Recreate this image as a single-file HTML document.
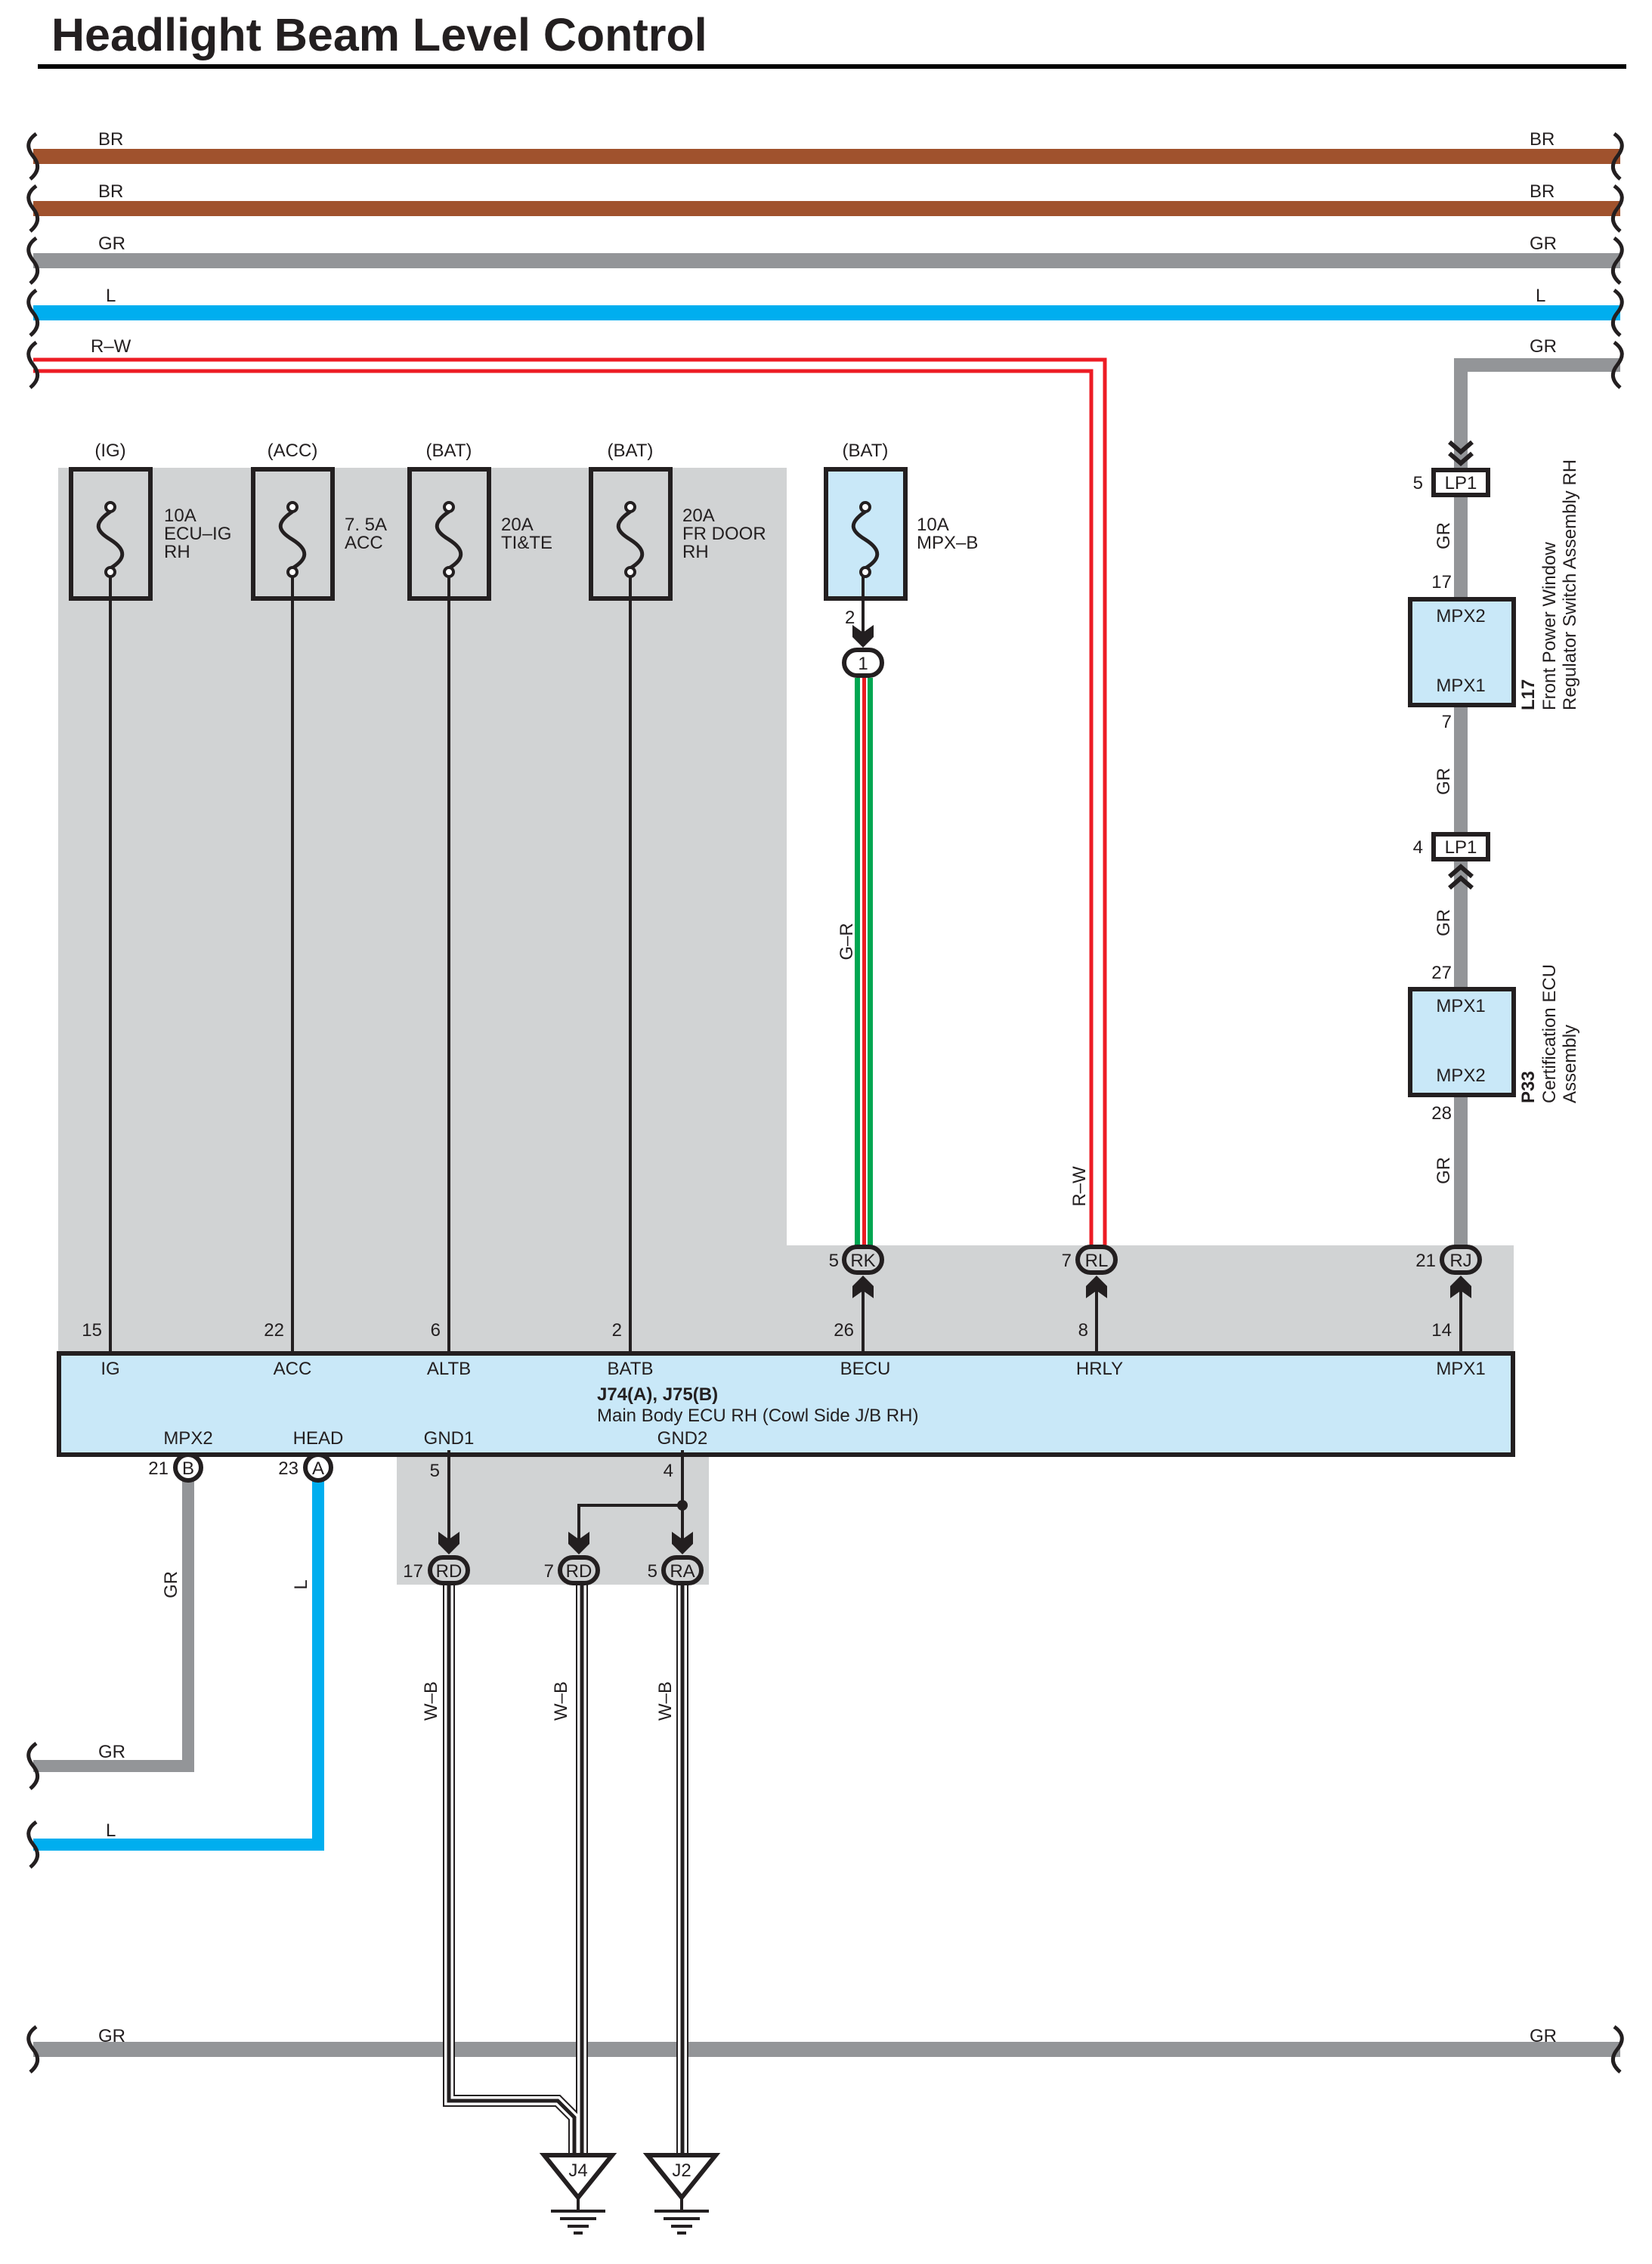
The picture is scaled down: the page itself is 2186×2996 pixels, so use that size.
<!DOCTYPE html>
<html><head><meta charset="utf-8"><style>
html,body{margin:0;padding:0;background:#fff}
svg{display:block}
text{font-family:"Liberation Sans",sans-serif;fill:#231f20}
</style></head><body>
<svg width="2186" height="2996" viewBox="0 0 2186 2996" xmlns="http://www.w3.org/2000/svg">
<defs>
<path id="sq" d="M48 -30 c-14 10 -12 20 -4 30 c8 10 8 20 -4 30" fill="none" stroke="#231f20" stroke-width="5"/>
<path id="sqr" d="M-4 -30 c14 10 12 20 4 30 c-8 10 -8 20 4 30" fill="none" stroke="#231f20" stroke-width="5"/>
<polygon id="adn" points="-14,0 0,10 14,0 14,16 0,30 -14,16" fill="#231f20"/>
<polygon id="aup" points="-14,0 0,-10 14,0 14,-16 0,-30 -14,-16" fill="#231f20"/>
</defs>

<text x="68" y="67" font-size="61" font-weight="bold" fill="#000">Headlight Beam Level Control</text>
<rect x="50" y="85" width="2102" height="6" fill="#000"/>

<g font-size="24">
<rect x="44" y="197" width="2100" height="20" fill="#a0522d"/>
<rect x="44" y="266" width="2100" height="20" fill="#a0522d"/>
<rect x="44" y="335" width="2100" height="20" fill="#939598"/>
<rect x="44" y="404" width="2100" height="20" fill="#00aeef"/>
<text x="130" y="192">BR</text><text x="2024" y="192">BR</text>
<text x="130" y="261">BR</text><text x="2024" y="261">BR</text>
<text x="130" y="330">GR</text><text x="2024" y="330">GR</text>
<text x="140" y="399">L</text><text x="2032" y="399">L</text>
<text x="120" y="466">R–W</text><text x="2024" y="466">GR</text>
</g>
<path d="M44 476 H1462 V1648" fill="none" stroke="#ed1c24" stroke-width="5"/>
<path d="M44 491 H1444 V1648" fill="none" stroke="#ed1c24" stroke-width="5"/>
<path d="M2144 483 H1933 V621" fill="none" stroke="#939598" stroke-width="18"/>
<g>
<use href="#sq" x="0" y="207"/><use href="#sq" x="0" y="276"/><use href="#sq" x="0" y="345"/><use href="#sq" x="0" y="414"/><use href="#sq" x="0" y="483"/>
<use href="#sqr" x="2140" y="207"/><use href="#sqr" x="2140" y="276"/><use href="#sqr" x="2140" y="345"/><use href="#sqr" x="2140" y="414"/><use href="#sqr" x="2140" y="483"/>
</g>

<polygon points="77,619 1041,619 1041,1648 2003,1648 2003,1793 77,1793" fill="#d1d3d4"/>
<rect x="525" y="1924" width="413" height="173" fill="#d1d3d4"/>

<g stroke="#231f20" stroke-width="6">
<rect x="94" y="621" width="105" height="171" fill="none"/>
<rect x="335" y="621" width="105" height="171" fill="none"/>
<rect x="542" y="621" width="105" height="171" fill="none"/>
<rect x="782" y="621" width="105" height="171" fill="none"/>
<rect x="1093" y="621" width="105" height="171" fill="#c9e8f8"/>
</g>
<g stroke="#231f20" stroke-width="5" fill="none">
<path d="M146 677 C124 692,126 702,146 714 C168 728,166 740,146 752"/>
<path d="M387 677 C365 692,367 702,387 714 C409 728,407 740,387 752"/>
<path d="M594 677 C572 692,574 702,594 714 C616 728,614 740,594 752"/>
<path d="M834 677 C812 692,814 702,834 714 C856 728,854 740,834 752"/>
<path d="M1145 677 C1123 692,1125 702,1145 714 C1167 728,1165 740,1145 752"/>
</g>
<g stroke="#231f20" stroke-width="4" fill="#fff">
<circle cx="146" cy="671" r="6"/><circle cx="146" cy="757" r="6"/>
<circle cx="387" cy="671" r="6"/><circle cx="387" cy="757" r="6"/>
<circle cx="594" cy="671" r="6"/><circle cx="594" cy="757" r="6"/>
<circle cx="834" cy="671" r="6"/><circle cx="834" cy="757" r="6"/>
<circle cx="1145" cy="671" r="6"/><circle cx="1145" cy="757" r="6"/>
</g>
<g stroke="#231f20" stroke-width="4">
<line x1="146" y1="763" x2="146" y2="1793"/>
<line x1="387" y1="763" x2="387" y2="1793"/>
<line x1="594" y1="763" x2="594" y2="1793"/>
<line x1="834" y1="763" x2="834" y2="1793"/>
<line x1="1142" y1="763" x2="1142" y2="840"/>
</g>
<g font-size="24">
<text x="146" y="604" text-anchor="middle">(IG)</text>
<text x="387" y="604" text-anchor="middle">(ACC)</text>
<text x="594" y="604" text-anchor="middle">(BAT)</text>
<text x="834" y="604" text-anchor="middle">(BAT)</text>
<text x="1145" y="604" text-anchor="middle">(BAT)</text>
<text x="217" y="690">10A</text><text x="217" y="714">ECU–IG</text><text x="217" y="738">RH</text>
<text x="456" y="702">7. 5A</text><text x="456" y="726">ACC</text>
<text x="663" y="702">20A</text><text x="663" y="726">TI&amp;TE</text>
<text x="903" y="690">20A</text><text x="903" y="714">FR DOOR</text><text x="903" y="738">RH</text>
<text x="1213" y="702">10A</text><text x="1213" y="726">MPX–B</text>
<text x="1118" y="825">2</text>
</g>
<use href="#adn" x="1142" y="827"/>
<rect x="1131" y="897" width="7" height="755" fill="#00a651"/>
<rect x="1141" y="897" width="5" height="755" fill="#ed1c24"/>
<rect x="1148" y="897" width="7" height="755" fill="#00a651"/>
<rect x="1117" y="860" width="50" height="34" rx="17" fill="#fff" stroke="#231f20" stroke-width="6"/>
<text x="1142" y="886" font-size="24" text-anchor="middle">1</text>
<text transform="translate(1128,1246) rotate(-90)" font-size="24" text-anchor="middle">G–R</text>
<text transform="translate(1436,1570) rotate(-90)" font-size="24" text-anchor="middle">R–W</text>

<line x1="1933" y1="656" x2="1933" y2="1648" stroke="#939598" stroke-width="18"/>
<g fill="none" stroke="#231f20" stroke-width="6">
<path d="M1918 585 L1933 598 L1948 585"/><path d="M1918 600 L1933 613 L1948 600"/>
<path d="M1918 1160 L1933 1147 L1948 1160"/><path d="M1918 1175 L1933 1162 L1948 1175"/>
<rect x="1897" y="622" width="72" height="33" fill="#fff"/>
<rect x="1897" y="1104" width="72" height="33" fill="#fff"/>
<rect x="1866" y="793" width="137" height="140" fill="#c9e8f8"/>
<rect x="1866" y="1309" width="137" height="140" fill="#c9e8f8"/>
</g>
<g font-size="24">
<text x="1933" y="647" text-anchor="middle">LP1</text>
<text x="1933" y="1129" text-anchor="middle">LP1</text>
<text x="1883" y="647" text-anchor="end">5</text>
<text x="1883" y="1129" text-anchor="end">4</text>
<text x="1933" y="823" text-anchor="middle">MPX2</text>
<text x="1933" y="915" text-anchor="middle">MPX1</text>
<text x="1933" y="1339" text-anchor="middle">MPX1</text>
<text x="1933" y="1431" text-anchor="middle">MPX2</text>
<text x="1921" y="778" text-anchor="end">17</text>
<text x="1921" y="963" text-anchor="end">7</text>
<text x="1921" y="1295" text-anchor="end">27</text>
<text x="1921" y="1481" text-anchor="end">28</text>
<text transform="translate(1918,709) rotate(-90)" text-anchor="middle">GR</text>
<text transform="translate(1918,1034) rotate(-90)" text-anchor="middle">GR</text>
<text transform="translate(1918,1221) rotate(-90)" text-anchor="middle">GR</text>
<text transform="translate(1918,1549) rotate(-90)" text-anchor="middle">GR</text>
<text transform="translate(2030,940) rotate(-90)" font-weight="bold">L17</text>
<text transform="translate(2058,940) rotate(-90)">Front Power Window</text>
<text transform="translate(2085,940) rotate(-90)">Regulator Switch Assembly RH</text>
<text transform="translate(2030,1460) rotate(-90)" font-weight="bold">P33</text>
<text transform="translate(2058,1460) rotate(-90)">Certification ECU</text>
<text transform="translate(2085,1460) rotate(-90)">Assembly</text>
</g>

<g stroke="#231f20" stroke-width="4">
<line x1="1142" y1="1700" x2="1142" y2="1793"/>
<line x1="1451" y1="1700" x2="1451" y2="1793"/>
<line x1="1933" y1="1700" x2="1933" y2="1793"/>
</g>
<use href="#aup" x="1142" y="1718"/><use href="#aup" x="1451" y="1718"/><use href="#aup" x="1933" y="1718"/>
<g stroke="#231f20" stroke-width="6" fill="#d1d3d4">
<rect x="1117" y="1650" width="50" height="34" rx="17"/>
<rect x="1426" y="1650" width="50" height="34" rx="17"/>
<rect x="1908" y="1650" width="50" height="34" rx="17"/>
</g>
<g font-size="24">
<text x="1142" y="1676" text-anchor="middle">RK</text>
<text x="1451" y="1676" text-anchor="middle">RL</text>
<text x="1933" y="1676" text-anchor="middle">RJ</text>
<text x="1110" y="1676" text-anchor="end">5</text>
<text x="1418" y="1676" text-anchor="end">7</text>
<text x="1900" y="1676" text-anchor="end">21</text>
<text x="1130" y="1768" text-anchor="end">26</text>
<text x="1440" y="1768" text-anchor="end">8</text>
<text x="1921" y="1768" text-anchor="end">14</text>
<text x="135" y="1768" text-anchor="end">15</text>
<text x="376" y="1768" text-anchor="end">22</text>
<text x="583" y="1768" text-anchor="end">6</text>
<text x="823" y="1768" text-anchor="end">2</text>
</g>

<rect x="78" y="1791" width="1924" height="134" fill="#c9e8f8" stroke="#231f20" stroke-width="6"/>
<g font-size="24">
<text x="146" y="1819" text-anchor="middle">IG</text>
<text x="387" y="1819" text-anchor="middle">ACC</text>
<text x="594" y="1819" text-anchor="middle">ALTB</text>
<text x="834" y="1819" text-anchor="middle">BATB</text>
<text x="1145" y="1819" text-anchor="middle">BECU</text>
<text x="1455" y="1819" text-anchor="middle">HRLY</text>
<text x="1933" y="1819" text-anchor="middle">MPX1</text>
<text x="790" y="1853" font-weight="bold">J74(A), J75(B)</text>
<text x="790" y="1881">Main Body ECU RH (Cowl Side J/B RH)</text>
<text x="249" y="1911" text-anchor="middle">MPX2</text>
<text x="421" y="1911" text-anchor="middle">HEAD</text>
<text x="594" y="1911" text-anchor="middle">GND1</text>
<text x="903" y="1911" text-anchor="middle">GND2</text>
</g>

<g transform="translate(0,-6)">
<path d="M249 1948 V2343 H44" fill="none" stroke="#939598" stroke-width="16"/>
<path d="M421 1948 V2447 H44" fill="none" stroke="#00aeef" stroke-width="16"/>
<use href="#sq" x="0" y="2343"/><use href="#sq" x="0" y="2447"/>
<g stroke="#231f20" stroke-width="6" fill="#fff">
<circle cx="249" cy="1948" r="17"/><circle cx="421" cy="1948" r="17"/>
</g>
<g font-size="24">
<text x="249" y="1957" text-anchor="middle">B</text>
<text x="421" y="1957" text-anchor="middle">A</text>
<text x="223" y="1957" text-anchor="end">21</text>
<text x="395" y="1957" text-anchor="end">23</text>
<text transform="translate(234,2103) rotate(-90)" text-anchor="middle">GR</text>
<text transform="translate(406,2103) rotate(-90)" text-anchor="middle">L</text>
<text x="130" y="2332">GR</text>
<text x="140" y="2436">L</text>
<text x="130" y="2708">GR</text>
<text x="2024" y="2708">GR</text>
</g>

<rect x="44" y="2708" width="2100" height="20" fill="#939598"/>
<use href="#sq" x="0" y="2718"/><use href="#sqr" x="2140" y="2718"/>

<g stroke="#231f20" stroke-width="4" fill="none">
<line x1="594" y1="1925" x2="594" y2="2055"/>
<line x1="903" y1="1925" x2="903" y2="2055"/>
<path d="M903 1998 H766 V2055"/>
</g>
<circle cx="903" cy="1998" r="7" fill="#231f20"/>
<use href="#adn" x="594" y="2033"/><use href="#adn" x="766" y="2033"/><use href="#adn" x="903" y="2033"/>

<g fill="none">
<g stroke="#231f20" stroke-width="16">
<path d="M594 2090 V2786 H738 L760 2808 V2858"/>
<path d="M770 2090 V2858"/>
<path d="M903 2090 V2858"/>
</g>
<g stroke="#fff" stroke-width="12">
<path d="M594 2090 V2786 H738 L760 2808 V2858"/>
<path d="M770 2090 V2858"/>
<path d="M903 2090 V2858"/>
</g>
<g stroke="#231f20" stroke-width="5">
<path d="M594 2090 V2786 H738 L760 2808 V2858"/>
<path d="M770 2090 V2858"/>
<path d="M903 2090 V2858"/>
</g>
</g>
<g stroke="#231f20" stroke-width="6" fill="#d1d3d4">
<rect x="569" y="2067" width="50" height="34" rx="17"/>
<rect x="741" y="2067" width="50" height="34" rx="17"/>
<rect x="878" y="2067" width="50" height="34" rx="17"/>
</g>
<g font-size="24">
<text x="594" y="2093" text-anchor="middle">RD</text>
<text x="766" y="2093" text-anchor="middle">RD</text>
<text x="903" y="2093" text-anchor="middle">RA</text>
<text x="560" y="2093" text-anchor="end">17</text>
<text x="733" y="2093" text-anchor="end">7</text>
<text x="870" y="2093" text-anchor="end">5</text>
<text x="582" y="1960" text-anchor="end">5</text>
<text x="891" y="1960" text-anchor="end">4</text>
<text transform="translate(578,2257) rotate(-90)" text-anchor="middle">W–B</text>
<text transform="translate(750,2257) rotate(-90)" text-anchor="middle">W–B</text>
<text transform="translate(888,2257) rotate(-90)" text-anchor="middle">W–B</text>
</g>

<g stroke="#231f20" stroke-width="6" fill="#fff">
<polygon points="720,2858 810,2858 765,2914"/>
<polygon points="857,2858 947,2858 902,2914"/>
</g>
<g stroke="#231f20" stroke-width="4">
<line x1="765" y1="2914" x2="765" y2="2931"/>
<line x1="729" y1="2932" x2="801" y2="2932"/>
<line x1="741" y1="2942" x2="789" y2="2942"/>
<line x1="751" y1="2952" x2="779" y2="2952"/>
<line x1="759" y1="2961" x2="771" y2="2961"/>
<line x1="902" y1="2914" x2="902" y2="2931"/>
<line x1="866" y1="2932" x2="938" y2="2932"/>
<line x1="878" y1="2942" x2="926" y2="2942"/>
<line x1="888" y1="2952" x2="916" y2="2952"/>
<line x1="896" y1="2961" x2="908" y2="2961"/>
</g>
<g font-size="24">
<text x="765" y="2886" text-anchor="middle">J4</text>
<text x="902" y="2886" text-anchor="middle">J2</text>
</g>
</g>
</svg>
</body></html>
